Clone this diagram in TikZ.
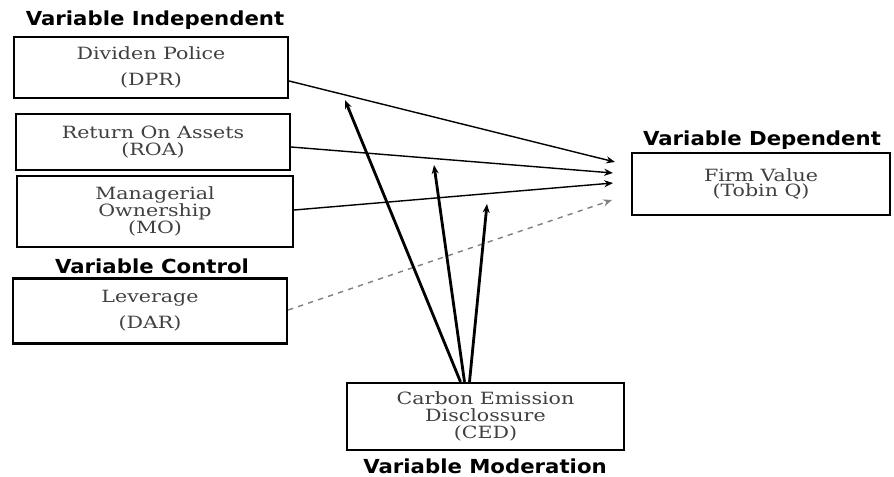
\documentclass[tikz,border=0pt]{standalone}
\usepackage{fontspec}
\setmainfont{DejaVu Serif}[FakeStretch=1.22]
\newfontfamily\headfont{DejaVu Sans}[FakeStretch=1.1]
\usetikzlibrary{arrows.meta,positioning}
\tikzset{
  varbox/.style={draw,line width=1.3pt,rectangle,align=center,text=black!75,font=\fontsize{9.6}{9.8}\selectfont},
  head/.style={font=\headfont\bfseries\fontsize{11}{12}\selectfont},
  link/.style={-{Stealth[length=5pt,width=4pt]},line width=0.8pt},
  modlink/.style={-{Stealth[length=5pt,width=4pt]},line width=1.6pt}
}
\begin{document}
\begin{tikzpicture}[x=0.02cm,y=-0.02cm]
                \useasboundingbox (0,0) rectangle (894,477);
                % independent variables
                \node[head] (hind) at (155,20) {Variable Independent};
                \node[varbox,minimum width=5.48cm,minimum height=1.22cm] (dpr) at (151,67.5) {Dividen Police\\[5pt](DPR)};
                \node[varbox,minimum width=5.48cm,minimum height=1.12cm] (roa) at (153,142) {Return On Assets\\(ROA)};
                \node[varbox,minimum width=5.52cm,minimum height=1.42cm] (mo) at (155,211.5) {Managerial\\Ownership\\(MO)};
                % control variable
                \node[head] (hctl) at (152,266) {Variable Control};
                \node[varbox,minimum width=5.48cm,minimum height=1.3cm] (dar) at (150,311) {Leverage\\[5pt](DAR)};
                % dependent variable
                \node[head] (hdep) at (762,140) {Variable Dependent};
                \node[varbox,minimum width=5.16cm,minimum height=1.24cm] (fv) at (761,184) {Firm Value\\[-1pt](Tobin Q)};
                % moderating variable
                \node[varbox,minimum width=5.54cm,minimum height=1.34cm] (ced) at (485.5,416.5) {Carbon Emission\\Disclossure\\(CED)};
                \node[head] (hmod) at (485,466) {Variable Moderation};
                % arrow tips
                \coordinate (t1) at (615,162);
                \coordinate (t2) at (613,173);
                \coordinate (t3) at (613,183);
                \coordinate (t4) at (612,200);
                \coordinate (m1) at (345,100);
                \coordinate (m2) at (434,165);
                \coordinate (m3) at (487,204);
                \draw[link] (dpr.east |- 0,81) -- (t1);
                \draw[link] (roa.east |- 0,147) -- (t2);
                \draw[link] (mo.east |- 0,210) -- (t3);
                \draw[link,dashed,gray] (dar.east |- 0,310) -- (t4);
                \draw[modlink] ([xshift=-0.5cm]ced.north) -- (m1);
                \draw[modlink] ([xshift=-0.42cm]ced.north) -- (m2);
                \draw[modlink] ([xshift=-0.32cm]ced.north) -- (m3);
\end{tikzpicture}
\end{document}
